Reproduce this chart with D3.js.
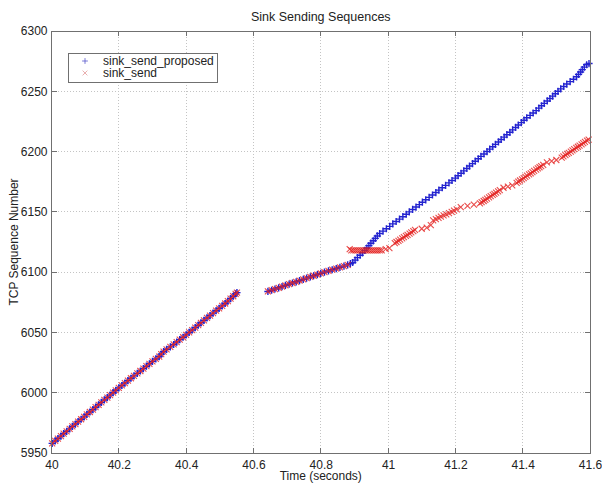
<!DOCTYPE html>
<html>
<head>
<meta charset="utf-8">
<script src="https://cdn.jsdelivr.net/npm/d3@7"></script>
<style>
  body { margin: 0; background: #fff; }
  svg { font-family: "Liberation Sans", Arial, Helvetica, sans-serif; }
  .grid line { stroke: #c4c4c4; stroke-dasharray: 1,2; shape-rendering: crispEdges; }
  .frame { fill: none; stroke: #707070; shape-rendering: crispEdges; }
  .tick-mark { stroke: #707070; shape-rendering: crispEdges; }
  text { fill: #222; }
</style>
</head>
<body>
<svg id="chart"></svg>
<script>
/* labels */
var title = "Sink Sending Sequences",
    xLegend = "Time (seconds)",
    yLegend = "TCP Sequence Number",
    seriesNames = ["sink_send_proposed", "sink_send"];

/* tick labels */
var xTicks = [40, 40.2, 40.4, 40.6, 40.8, 41, 41.2, 41.4, 41.6];
var yTicks = [5950, 6000, 6050, 6100, 6150, 6200, 6250, 6300];

/* [time, sequence]; both series share these */
var commonPoints = [
  [40.002,5958],[40.011,5960],[40.019,5962],[40.028,5964],[40.036,5966],[40.045,5968],
  [40.054,5970],[40.062,5972],[40.071,5974],[40.079,5976],[40.088,5978],[40.097,5980],
  [40.105,5982],[40.114,5984],[40.123,5986],[40.131,5988],[40.140,5990],[40.148,5992],
  [40.157,5994],[40.166,5996],[40.174,5998],[40.183,6000],[40.191,6002],[40.200,6004],
  [40.209,6006],[40.218,6008],[40.227,6010],[40.236,6012],[40.245,6014],[40.255,6016],
  [40.264,6018],[40.273,6020],[40.282,6022],[40.291,6024],[40.300,6026],[40.310,6028],
  [40.320,6030],[40.326,6032],[40.333,6034],[40.342,6036],[40.353,6038],[40.363,6040],
  [40.372,6042],[40.381,6044],[40.391,6046],[40.400,6048],[40.409,6050],[40.418,6052],
  [40.427,6054],[40.436,6056],[40.444,6058],[40.453,6060],[40.462,6062],[40.471,6064],
  [40.480,6066],[40.489,6068],[40.498,6070],[40.507,6072],[40.516,6074],[40.524,6076],
  [40.532,6078],[40.540,6080],[40.547,6082],[40.551,6083],
  [40.643,6084],[40.654,6085],[40.664,6086],[40.675,6087],[40.685,6088],[40.695,6089],
  [40.706,6090],[40.716,6091],[40.727,6092],[40.737,6093],[40.748,6094],[40.758,6095],
  [40.769,6096],[40.779,6097],[40.790,6098],[40.800,6099],[40.811,6100],[40.823,6101],
  [40.834,6102],[40.846,6103],[40.857,6104],[40.869,6105],[40.880,6106]
];

/* sink_send_proposed after the split */
var proposedPoints = [
  [40.888,6107],[40.895,6108],[40.902,6110],[40.909,6112],[40.917,6114],[40.924,6116],
  [40.931,6118],[40.937,6120],[40.943,6122],[40.949,6124],[40.956,6126],[40.962,6128],
  [40.968,6130],[40.975,6132],[40.985,6134],[40.995,6136],[41.005,6138],[41.014,6140],
  [41.024,6142],[41.034,6144],[41.044,6146],[41.054,6148],[41.063,6150],[41.073,6152],
  [41.083,6154],[41.093,6156],[41.102,6158],[41.112,6160],[41.122,6162],[41.132,6164],
  [41.142,6166],[41.151,6168],[41.161,6170],[41.171,6172],[41.181,6174],[41.190,6176],
  [41.200,6178],[41.208,6180],[41.217,6182],[41.225,6184],[41.234,6186],[41.242,6188],
  [41.251,6190],[41.259,6192],[41.268,6194],[41.276,6196],[41.285,6198],[41.294,6200],
  [41.302,6202],[41.311,6204],[41.319,6206],[41.328,6208],[41.336,6210],[41.345,6212],
  [41.353,6214],[41.362,6216],[41.370,6218],[41.379,6220],[41.387,6222],[41.396,6224],
  [41.404,6226],[41.412,6228],[41.422,6230],[41.431,6232],[41.440,6234],[41.448,6236],
  [41.456,6238],[41.464,6240],[41.473,6242],[41.481,6244],[41.489,6246],[41.497,6248],
  [41.505,6250],[41.513,6252],[41.522,6254],[41.531,6256],[41.541,6258],[41.551,6260],
  [41.560,6262],[41.566,6264],[41.572,6266],[41.577,6268],[41.583,6270],[41.590,6272],
  [41.597,6273]
];

/* sink_send after the split */
var sendPoints = [
  [40.886,6119],[40.891,6118],[40.897,6118],[40.903,6118],[40.909,6118],[40.915,6118],
  [40.921,6118],[40.927,6118],[40.933,6118],[40.939,6118],[40.945,6118],[40.951,6118],
  [40.957,6118],[40.963,6118],[40.969,6118],[40.975,6118],[40.981,6118],
  [40.993,6119],[41.004,6120],
  [41.020,6124],[41.025,6125],[41.031,6126],[41.036,6127],[41.042,6128],[41.047,6129],
  [41.053,6130],[41.058,6131],[41.064,6132],[41.069,6133],[41.075,6134],[41.080,6135],
  [41.100,6136],[41.115,6137],[41.127,6139],
  [41.134,6143],[41.142,6144],[41.150,6145],[41.157,6146],[41.165,6147],[41.173,6148],
  [41.181,6149],[41.189,6150],[41.196,6151],[41.204,6152],
  [41.216,6154],[41.236,6155],[41.255,6156],
  [41.273,6157],[41.278,6158],[41.284,6159],[41.289,6160],[41.294,6161],[41.300,6162],
  [41.305,6163],[41.311,6164],[41.316,6165],[41.321,6166],[41.327,6167],[41.332,6168],
  [41.343,6170],[41.356,6171],[41.369,6172],
  [41.382,6174],[41.387,6175],[41.392,6176],[41.398,6177],[41.403,6178],[41.408,6179],
  [41.413,6180],[41.419,6181],[41.424,6182],[41.429,6183],[41.434,6184],[41.440,6185],
  [41.445,6186],[41.450,6187],[41.455,6188],[41.461,6189],
  [41.472,6191],[41.486,6192],[41.500,6193],
  [41.516,6195],[41.521,6196],[41.527,6197],[41.532,6198],[41.537,6199],[41.543,6200],
  [41.548,6201],[41.553,6202],[41.559,6203],[41.564,6204],[41.569,6205],[41.575,6206],
  [41.580,6207],[41.585,6208],[41.591,6209],[41.596,6210]
];

/* settings */
var width = 602,
    height = 484,
    margin = { top: 31, right: 12, bottom: 31, left: 51.5 },
    innerWidth = width - margin.left - margin.right,
    innerHeight = height - margin.top - margin.bottom,
    tickLen = 5,
    blue = "#2323cf",
    red = "#e3201f",
    plusPath = "M-3.6,0H3.6M0,-3.6V3.6",
    crossPath = "M-3,-3L3,3M-3,3L3,-3";

var svg = d3.select("#chart")
    .attr("width", width)
    .attr("height", height);

var g = svg.append("g")
    .attr("transform", "translate(" + margin.left + "," + margin.top + ")");

/* scales */
var xScale = d3.scaleLinear().domain([40, 41.6]).range([0, innerWidth]);
var yScale = d3.scaleLinear().domain([5950, 6300]).range([innerHeight, 0]);

/* grid */
var grid = g.append("g").attr("class", "grid");
grid.selectAll(".gx")
    .data(xTicks.slice(1, -1))
  .enter().append("line")
    .attr("x1", function (d){ return xScale(d); })
    .attr("x2", function (d){ return xScale(d); })
    .attr("y1", 0)
    .attr("y2", innerHeight);
grid.selectAll(".gy")
    .data(yTicks.slice(1, -1))
  .enter().append("line")
    .attr("y1", function (d){ return yScale(d); })
    .attr("y2", function (d){ return yScale(d); })
    .attr("x1", 0)
    .attr("x2", innerWidth);

/* axes: labels through d3 axes, inward ticks drawn by hand on all 4 sides */
var xAxis = d3.axisBottom(xScale).tickValues(xTicks).tickSize(0).tickPadding(7)
    .tickFormat(d3.format("~g"));
var yAxis = d3.axisLeft(yScale).tickValues(yTicks).tickSize(0).tickPadding(4)
    .tickFormat(d3.format("d"));

g.append("g")
    .attr("class", "x-axis")
    .attr("transform", "translate(0," + innerHeight + ")")
    .call(xAxis)
    .call(function (s){ s.select(".domain").remove(); })
    .selectAll("text")
    .style("font-size", "12px")
    .attr("fill", "#222");

g.append("g")
    .attr("class", "y-axis")
    .call(yAxis)
    .call(function (s){ s.select(".domain").remove(); })
    .selectAll("text")
    .style("font-size", "12px")
    .attr("fill", "#222");

var ticks = g.append("g");
xTicks.slice(1, -1).forEach(function (d){
    ticks.append("line").attr("class", "tick-mark")
        .attr("x1", xScale(d)).attr("x2", xScale(d))
        .attr("y1", innerHeight).attr("y2", innerHeight - tickLen);
    ticks.append("line").attr("class", "tick-mark")
        .attr("x1", xScale(d)).attr("x2", xScale(d))
        .attr("y1", 0).attr("y2", tickLen);
});
yTicks.slice(1, -1).forEach(function (d){
    ticks.append("line").attr("class", "tick-mark")
        .attr("y1", yScale(d)).attr("y2", yScale(d))
        .attr("x1", 0).attr("x2", tickLen);
    ticks.append("line").attr("class", "tick-mark")
        .attr("y1", yScale(d)).attr("y2", yScale(d))
        .attr("x1", innerWidth).attr("x2", innerWidth - tickLen);
});

/* markers */
var proposed = commonPoints.concat(proposedPoints);
var send = commonPoints.concat(sendPoints);

g.append("g").selectAll("path")
    .data(proposed)
  .enter().append("path")
    .attr("d", plusPath)
    .attr("transform", function (d){ return "translate(" + xScale(d[0]) + "," + yScale(d[1]) + ")"; })
    .attr("stroke", blue)
    .attr("stroke-width", 1.4)
    .attr("fill", "none");

g.append("g").selectAll("path")
    .data(send)
  .enter().append("path")
    .attr("d", crossPath)
    .attr("transform", function (d){ return "translate(" + xScale(d[0]) + "," + yScale(d[1]) + ")"; })
    .attr("stroke", red)
    .attr("stroke-opacity", 0.8)
    .attr("stroke-width", 1.1)
    .attr("fill", "none");

/* frame */
g.append("rect")
    .attr("class", "frame")
    .attr("x", 0).attr("y", 0)
    .attr("width", innerWidth).attr("height", innerHeight);

/* legend */
var legend = g.append("g")
    .attr("transform", "translate(" + (68 - margin.left) + "," + (53 - margin.top) + ")");
legend.append("rect")
    .attr("width", 149).attr("height", 29)
    .attr("fill", "#fff")
    .attr("stroke", "#707070")
    .attr("shape-rendering", "crispEdges");
[plusPath, crossPath].forEach(function (p, i){
    legend.append("path")
        .attr("d", p)
        .attr("transform", "translate(17," + (8 + 12 * i) + ") scale(0.8)")
        .attr("stroke", i ? "#e39a9a" : "#5555cc")
        .attr("stroke-width", 1)
        .attr("fill", "none");
    legend.append("text")
        .attr("x", 35)
        .attr("y", 12 + 12 * i)
        .style("font-size", "12px")
        .text(seriesNames[i]);
});

/* title and axis legends */
svg.append("text")
    .attr("x", margin.left + innerWidth / 2)
    .attr("y", 21)
    .style("text-anchor", "middle")
    .style("font-size", "12.5px")
    .text(title);

svg.append("text")
    .attr("x", margin.left + innerWidth / 2)
    .attr("y", 480)
    .style("text-anchor", "middle")
    .style("font-size", "12px")
    .text(xLegend);

svg.append("text")
    .attr("transform", "translate(18," + (margin.top + innerHeight / 2) + ") rotate(-90)")
    .style("text-anchor", "middle")
    .style("font-size", "12px")
    .text(yLegend);
</script>
</body>
</html>
